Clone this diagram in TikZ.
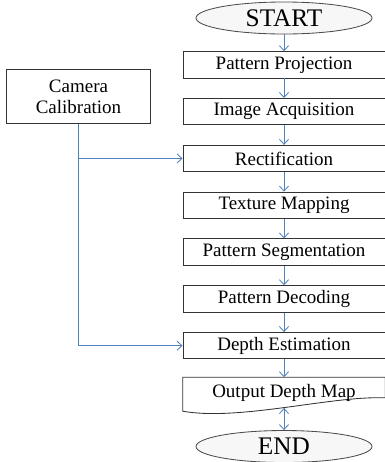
\documentclass[tikz,border=0pt]{standalone}
\usepackage{fontspec}
\setmainfont{Liberation Serif}
\usepackage{tikz}
\usepackage{xcolor}
\usetikzlibrary{shapes,arrows,arrows.meta,positioning}

\definecolor{flowblue}{RGB}{79,129,189}

\tikzset{
  stepbox/.style={draw=black!80, fill=white, line width=0.6pt, minimum width=5.05cm, minimum height=0.66cm, inner sep=0pt, font=\fontsize{13.5}{15}\selectfont},
  terminal/.style={draw=black!70, fill=gray!6, ellipse, line width=0.6pt, minimum width=4.4cm, minimum height=0.8cm, inner sep=0pt, font=\fontsize{18}{20}\selectfont},
  flow/.style={-{Straight Barb[length=3.5pt,width=6.5pt]}, draw=flowblue, line width=0.6pt}
}

\begin{document}
\begin{tikzpicture}[x=0.025cm, y=-0.025cm, node distance=1.17cm]
    \useasboundingbox (0,0) rectangle (385,462);

    \node (start) [terminal] at (284,18) {START};
    \node (proj) [stepbox, below of=start] {Pattern Projection};
    \node (acq) [stepbox, below of=proj] {Image Acquisition};
    \node (rect) [stepbox, below of=acq] {Rectification};
    \node (tex) [stepbox, below of=rect] {Texture Mapping};
    \node (seg) [stepbox, below of=tex] {Pattern Segmentation};
    \node (dec) [stepbox, below of=seg] {Pattern Decoding};
    \node (depth) [stepbox, below of=dec] {Depth Estimation};
    \node (out) [below of=depth, minimum width=5.05cm, minimum height=0.75cm, inner sep=0pt, font=\fontsize{13.5}{15}\selectfont] {};
    \draw[black!80, fill=white, line width=0.6pt] (out.north east) -- (out.north west) -- ++(0,34)
        .. controls +(57,10) and +(-55,-2) .. ([yshift=0.25cm]out.south east) -- cycle;
    \node at (out) [font=\fontsize{13.5}{15}\selectfont] {Output Depth Map};
    \node (end) [terminal, below of=out, node distance=1.35cm] {END};

    \node (calib) [stepbox, minimum width=3.58cm, minimum height=1.33cm, align=center] at (78.5,96.5) {Camera\\Calibration};

    \path[flow] (start) edge (proj);
    \path[flow] (proj) edge (acq);
    \path[flow] (acq) edge (rect);
    \path[flow] (rect) edge (tex);
    \path[flow] (tex) edge (seg);
    \path[flow] (seg) edge (dec);
    \path[flow] (dec) edge (depth);
    \path[flow] (depth) edge (out);
    \path[flow] (out.center |- 0,408) edge (end);

    \draw[flow] (calib.south) -- (calib.south |- depth.west) -- (depth.west);
    \draw[flow] (calib.south |- rect.west) -- (rect.west);
\end{tikzpicture}
\end{document}
